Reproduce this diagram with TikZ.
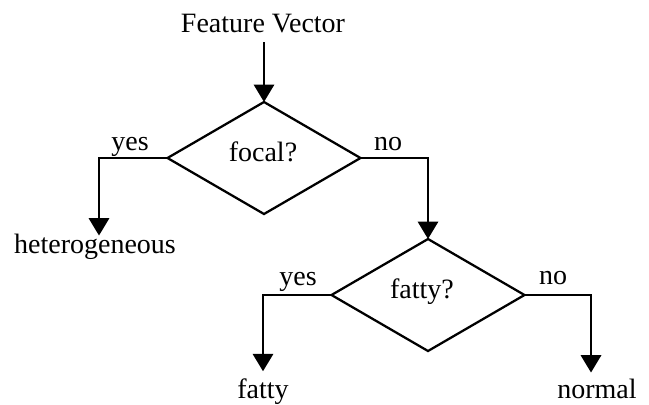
\documentclass[tikz,border=0pt]{standalone}
\usepackage{fontspec}
\setmainfont{Liberation Serif}
\usetikzlibrary{shapes.geometric,arrows.meta,calc}
\begin{document}
\begin{tikzpicture}[x=0.75pt,y=-0.75pt,
  every node/.style={inner sep=0pt, outer sep=0pt},
  txt/.style={font=\fontsize{21}{25}\selectfont, anchor=base},
  decision/.style={draw, diamond, line width=1.7pt,
    minimum width=144.75pt, minimum height=84pt, inner sep=0pt},
  flow/.style={line width=2.2pt, line join=miter,
    -{Triangle[width=15pt,length=13pt]}}]

\useasboundingbox (0,0) rectangle (649,404);

% start label and the two decisions
\node[txt] (fv) at (263,32) {Feature Vector};
\node[decision] (d1) at (264,158) {};
\node[txt] (q1) at (263,161) {focal?};
\node[decision] (d2) at (428,295) {};
\node[txt] (q2) at (422,298) {fatty?};

% outcomes
\node[txt] (het) at (95,253) {heterogeneous};
\node[txt] (fat) at (263,398) {fatty};
\node[txt] (nor) at (597,398) {normal};

% branch labels
\node[txt] (y1) at (130,150) {yes};
\node[txt] (n1) at (388,150) {no};
\node[txt] (y2) at (298,285) {yes};
\node[txt] (n2) at (553,284) {no};

% connectors
\draw[flow] ($(fv.south -| d1.north)+(0,10)$) -- (d1.north);
\draw[flow] (d1.west) -| ($(het.north)+(4,2)$);
\draw[flow] (d1.east) -| (d2.north);
\draw[flow] (d2.west) -| ($(fat.north)+(0,-7)$);
\draw[flow] (d2.east) -| ($(nor.north)+(-6,-6)$);
\end{tikzpicture}
\end{document}
